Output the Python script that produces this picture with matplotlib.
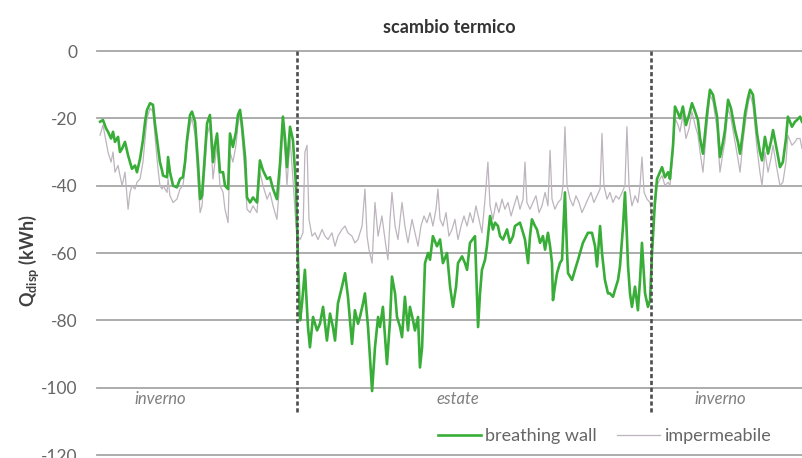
import matplotlib
matplotlib.use("Agg")
import matplotlib.pyplot as plt

# ---------------- data ----------------
title = "scambio termico"
ylabel = r"Q$_{\mathregular{disp}}$ (kWh)"
series_names = ["breathing wall", "impermeabile"]
yticks = [0, -20, -40, -60, -80, -100, -120]
season_bounds = [103.6, 287.0]          # day of year where seasons change
season_labels = ["inverno", "estate", "inverno"]
season_label_days = [32.6, 187.0, 322.7]
season_label_y = -103.5

# first winter (shared day grid)
day_w1 = [1.6, 3.1, 4.7, 5.7, 7.3, 8.3, 9.3, 10.9, 11.9, 13.0,
          14.5, 16.1, 17.1, 18.1, 19.7, 20.7, 22.3, 23.8, 24.9, 25.9,
          27.5, 29.0, 30.0, 31.6, 32.6, 33.7, 34.2, 36.3, 36.8, 37.8,
          39.4, 41.4, 43.0, 44.5, 45.6, 46.6, 48.2, 49.2, 50.8, 52.3,
          53.4, 54.4, 56.0, 57.0, 58.5, 60.1, 61.1, 62.2, 63.7, 65.3,
          66.3, 67.9, 68.9, 70.4, 72.0, 73.0, 74.1, 75.1, 76.7, 77.7,
          79.3, 80.8, 82.9, 84.4, 86.0, 88.1, 89.6, 91.2, 93.2, 94.8,
          96.3, 97.4, 98.4, 100.0, 101.5, 103.1, 104.1, 105.2]
bw_w1 = [-21, -20.5, -23, -24, -26, -24, -27, -25.5, -30, -29,
         -27, -31, -33, -35, -34, -36, -32, -26.5, -21, -17.5,
         -15.5, -16, -21.5, -28.5, -33, -35.5, -37, -37.5, -31.5, -36,
         -40, -40.5, -38, -37.5, -33, -26.5, -19, -18, -21, -33,
         -44, -43, -30, -21.5, -19, -33, -28, -24.5, -36, -36,
         -40, -41, -24.5, -28.5, -24, -19, -17.5, -22, -31.5, -43.5,
         -45, -43.5, -45, -32.5, -35.5, -38, -37.5, -41, -44, -33.5,
         -19.5, -26, -34.5, -22.5, -26.5, -40, -62, -80]
imp_w1 = [-25, -22, -27, -30, -33, -30, -36, -34, -37, -40,
          -36, -47, -42, -40, -41, -39, -38, -33, -26, -20,
          -17, -18, -25, -35, -40, -41, -40, -42, -38, -43,
          -45, -44, -41, -40, -35, -28, -22, -20, -25, -38,
          -48, -46, -34, -25, -22, -38, -33, -28, -40, -42,
          -47, -51, -30, -33, -28, -22, -19, -25, -37, -47,
          -48, -46, -48, -36, -40, -44, -42, -46, -50, -38,
          -22, -30, -40, -26, -38, -52, -55, -56]

# summer, breathing wall
day_bw_s = [106.2, 107.7, 109.3, 110.3, 111.9, 114.0, 115.5, 117.1, 119.1, 120.7,
            122.2, 123.3, 124.8, 126.9, 128.5, 130.0, 132.1, 133.6, 135.2, 136.2,
            137.8, 138.8, 140.4, 142.5, 144.0, 145.6, 146.6, 148.1, 150.2, 151.8,
            152.8, 154.4, 155.4, 157.0, 158.0, 159.5, 161.1, 162.1, 163.7, 164.7,
            166.3, 167.3, 168.4, 169.9, 171.5, 172.5, 174.0, 176.1, 177.7, 179.2,
            181.3, 182.9, 184.4, 186.0, 187.0, 189.1, 190.6, 191.7, 193.2, 195.8,
            197.4, 198.4, 199.4, 201.0, 202.0, 203.6, 205.1, 206.2, 207.7, 208.8,
            210.3, 212.4, 213.9, 215.5, 216.5, 219.1, 220.7, 221.7, 223.3, 224.3,
            225.3, 226.9, 227.9, 229.5, 231.0, 232.1, 233.6, 234.7, 235.7, 236.2,
            237.2, 238.3, 239.8, 240.9, 242.4, 243.5, 244.0, 246.1, 247.6, 249.2,
            250.2, 251.7, 254.3, 256.4, 258.0, 259.0, 260.6, 261.6, 263.1, 264.7,
            265.7, 267.3, 268.3, 269.9, 270.9, 272.5, 273.5, 274.5, 275.1, 276.1,
            277.1, 278.7, 280.2, 281.3, 282.3, 283.9, 285.4, 286.5, 287.5, 289.0]
bw_s = [-75, -65, -82, -88, -79, -83, -81, -76, -86, -78,
        -82, -86, -75, -70, -66, -73, -87, -77, -81, -79,
        -75, -72, -82, -101, -88, -79, -82, -76, -93, -80,
        -67, -72, -79, -82, -85, -73, -83, -76, -80, -83,
        -79, -94, -88, -63, -60, -62, -55, -58, -56, -63,
        -60, -70, -76, -70, -63, -61, -63, -65, -57, -55,
        -82, -72, -65, -62, -58, -49, -53, -51, -52, -55,
        -56, -53, -57, -55, -52, -51, -54, -56, -63, -55,
        -50, -52, -53, -57, -55, -59, -54, -58, -63, -74,
        -70, -66, -63, -62, -42, -60, -66, -68, -65, -62,
        -60, -57, -54, -54, -58, -64, -52, -60, -68, -72,
        -72, -73, -71, -68, -64, -52, -42, -55, -64, -72,
        -76, -70, -77, -68, -57, -72, -76, -74, -60, -45]

# summer, impermeabile
day_imp_s = [106.7, 107.7, 108.8, 109.8, 111.4, 112.9, 114.5, 116.6, 118.1, 119.7,
             121.7, 123.3, 124.8, 126.9, 128.5, 130.0, 132.1, 133.6, 135.2, 137.3,
             138.8, 139.9, 140.9, 142.5, 144.0, 145.6, 147.6, 149.2, 150.7, 151.8,
             152.8, 154.4, 155.9, 158.0, 159.5, 161.1, 163.2, 164.7, 166.3, 167.8,
             169.4, 170.9, 172.5, 174.0, 175.6, 176.6, 177.7, 179.2, 180.8, 182.3,
             183.9, 185.4, 187.0, 188.6, 190.1, 191.7, 193.2, 194.8, 196.3, 197.9,
             199.4, 201.0, 202.5, 203.6, 205.1, 206.7, 208.2, 209.8, 211.3, 212.9,
             214.5, 216.0, 217.6, 219.1, 220.7, 221.7, 222.7, 224.3, 225.8, 227.4,
             229.0, 230.5, 232.1, 233.6, 234.7, 235.7, 237.2, 238.8, 240.4, 241.4,
             242.4, 243.5, 245.0, 246.6, 248.1, 249.7, 251.2, 252.8, 254.3, 255.9,
             257.4, 259.0, 260.6, 261.6, 262.6, 264.2, 265.7, 267.3, 268.8, 270.4,
             272.0, 273.5, 274.5, 275.6, 277.1, 278.7, 280.2, 281.3, 282.3, 283.4,
             284.9, 286.5, 287.5, 289.0]
imp_s = [-54, -30, -28, -50, -55, -54, -56, -53, -55, -56,
         -54, -58, -55, -53, -52, -54, -55, -57, -56, -52,
         -41, -55, -59, -63, -45, -55, -49, -56, -62, -50,
         -42, -52, -56, -45, -52, -57, -50, -54, -58, -52,
         -49, -51, -48, -52, -47, -41, -50, -52, -48, -55,
         -53, -50, -56, -52, -49, -52, -48, -51, -46, -50,
         -54, -44, -33, -46, -50, -45, -48, -44, -47, -45,
         -49, -46, -43, -47, -44, -33, -45, -47, -45, -43,
         -48, -46, -42, -46, -29.5, -44, -47, -45, -44, -40,
         -22.5, -40, -44, -46, -43, -45, -48, -46, -44, -42,
         -45, -43, -41, -24.5, -40, -44, -42, -45, -43, -44,
         -42, -40, -22.5, -40, -46, -43, -45, -40, -31.5, -42,
         -44, -45, -50, -47]

# second winter (shared day grid)
day_w2 = [290.1, 291.6, 292.7, 294.2, 295.8, 296.8, 298.4, 299.4, 301.0, 302.0,
          303.5, 305.1, 306.7, 308.2, 309.8, 311.3, 312.4, 313.9, 316.0, 317.5,
          319.1, 321.2, 322.7, 324.3, 325.3, 326.9, 328.4, 330.5, 332.0, 333.1,
          334.6, 335.7, 337.2, 338.3, 339.8, 341.9, 343.4, 344.5, 346.0, 347.6,
          349.1, 350.2, 352.2, 353.8, 355.3, 356.9, 357.9, 360.0, 361.6, 362.6,
          364.2, 365.2]
bw_w2 = [-38, -36, -34.5, -37.5, -36, -38, -28, -16.5, -18.5, -20,
         -16.5, -22, -19, -15.5, -18, -20.5, -26, -30.5, -18.5, -11.5,
         -13, -19.5, -31.5, -27, -23.5, -14.5, -17, -23.5, -27, -30.5,
         -24, -18.5, -14, -11.5, -13, -24.5, -30, -32.5, -25.5, -30.5,
         -27, -23.5, -29.5, -34.5, -33, -26, -19.5, -22.5, -21, -20.5,
         -19.5, -21]
imp_w2 = [-40, -38, -37, -40, -39, -40, -30, -20, -22, -24,
          -19, -26, -23, -18, -22, -25, -30, -36, -22, -13,
          -15, -23, -36, -30, -27, -17, -20, -27, -32, -36,
          -27, -22, -16, -13, -16, -29, -36, -40, -30, -36,
          -32, -28, -35, -40, -39, -33, -25, -28, -27, -26,
          -26, -29]

days_bw = day_w1 + day_bw_s + day_w2
q_bw = bw_w1 + bw_s + bw_w2
days_imp = day_w1 + day_imp_s + day_w2
q_imp = imp_w1 + imp_s + imp_w2

# ---------------- style ----------------
plt.rcParams["font.family"] = ["Lato", "DejaVu Sans"]
GREEN = "#38ad38"
GREY = "#bdb5bd"
GRID = "#a6a6a6"
TXT = "#666666"

fig = plt.figure(figsize=(8.02, 4.58), dpi=100)
ax = fig.add_axes([97 / 802, 3 / 458, 1 - 97 / 802, (455 - 51) / 458])

ax.set_xlim(0, 365.2)
ax.set_ylim(-120, 0)
ax.set_yticks(yticks)
ax.set_yticklabels([str(v) for v in yticks])
ax.set_xticks([])
for sp in ax.spines.values():
    sp.set_visible(False)
ax.tick_params(axis="y", length=0, pad=14, labelsize=12.5, labelcolor=TXT)
for v in yticks:
    ax.axhline(v, color=GRID, lw=1.3, zorder=1, clip_on=False)

ax.plot(days_imp, q_imp, color=GREY, lw=0.9, zorder=3, label=series_names[1])
ax.plot(days_bw, q_bw, color=GREEN, lw=1.9, zorder=4, label=series_names[0])

ax.vlines(season_bounds, -107.2, 0, colors="#4d4d4d", lw=1.9,
          linestyles=(0, (1.6, 1.0)), zorder=5)

for d, lab in zip(season_label_days, season_labels):
    ax.text(d, season_label_y, lab, ha="center", va="center",
            fontsize=12, style="italic", color="#7f7f7f")

ax.set_title(title, fontsize=13, fontweight="bold", color="#333333", pad=13)
ax.set_ylabel(ylabel, fontsize=13, fontweight="bold", color="#404040")
ax.yaxis.set_label_coords(-0.08, 0.48)

h, l = ax.get_legend_handles_labels()
ax.legend(h[::-1], l[::-1], loc="center", bbox_to_anchor=(0.72, 0.047),
          ncol=2, frameon=False, fontsize=13, handlelength=2.4,
          handletextpad=0.25, columnspacing=1.1, labelcolor=TXT)

fig.savefig("out.png", dpi=100)
